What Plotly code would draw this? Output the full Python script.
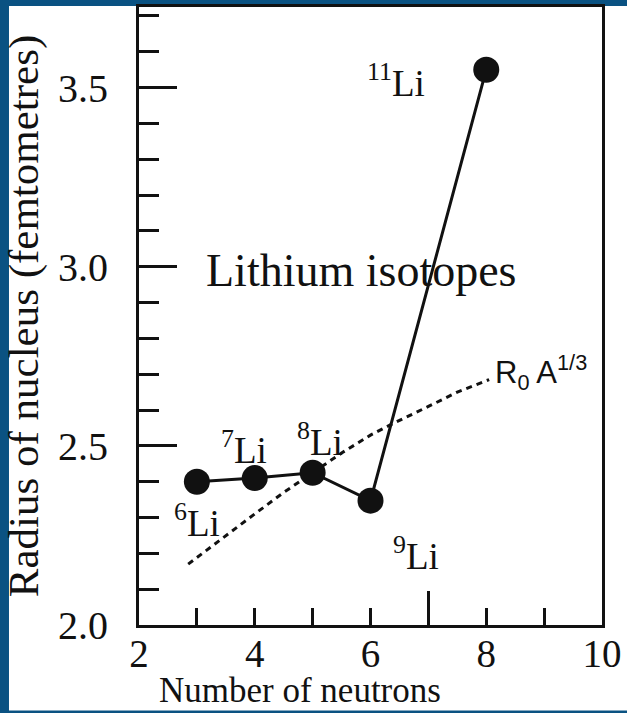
import plotly.graph_objects as go

# ---- data ----
neutrons = [3, 4, 5, 6, 8]
radius = [2.40, 2.41, 2.425, 2.347, 3.55]
isotope_mass = ["6", "7", "8", "9", "11"]

curve_n = [2.85, 3.5, 4.0, 4.5, 4.9, 5.5, 6.0, 6.36, 7.0, 7.5, 8.05]
curve_r = [2.17, 2.25, 2.31, 2.37, 2.415, 2.48, 2.53, 2.56, 2.61, 2.65, 2.685]

x_tick_vals = [2, 4, 6, 8, 10]
y_tick_vals = [2.0, 2.5, 3.0, 3.5]
y_tick_text = ["2.0", "2.5", "3.0", "3.5"]

# label offsets (pixels) for the isotope labels
label_dx = [0, -11, 7, 45, -90]
label_dy = [-39, 31, 33, -53, -11]

SERIF = "Liberation Serif, Times New Roman, serif"
SANS = "Liberation Sans, Arial, sans-serif"
INK = "#111111"
BLUE = "#0a5282"
X_RANGE = [2, 10]

fig = go.Figure()

# dashed R0 A^1/3 curve (on the overlay axis that carries the long tick at 7)
fig.add_trace(go.Scatter(
    x=curve_n, y=curve_r, mode="lines", xaxis="x2", yaxis="y",
    line=dict(color=INK, width=3, dash="6px,5px"),
    hoverinfo="skip", showlegend=False,
))

# measured radii (on the overlay axis that carries the tick labels)
fig.add_trace(go.Scatter(
    x=neutrons, y=radius, mode="lines+markers", xaxis="x3", yaxis="y",
    line=dict(color=INK, width=3),
    marker=dict(color=INK, size=26),
    showlegend=False,
))

annotations = []
for n, r, m, dx, dy in zip(neutrons, radius, isotope_mass, label_dx, label_dy):
    annotations.append(dict(
        x=n, y=r, xref="x", yref="y", text=f"<sup>{m}</sup>Li",
        showarrow=False, xshift=dx, yshift=dy,
        font=dict(family=SERIF, size=37, color=INK),
    ))

annotations.append(dict(
    x=5.85, y=2.99, xref="x", yref="y", text="Lithium isotopes",
    showarrow=False, font=dict(family=SERIF, size=46, color=INK),
))

annotations.append(dict(
    x=curve_n[-1], y=curve_r[-1], xref="x", yref="y",
    text="R<sub>0</sub> A<sup>1/3</sup>", showarrow=False,
    xanchor="left", xshift=4, yshift=7,
    font=dict(family=SANS, size=31, color=INK),
))

# x-axis title (the reference centres it left of the plot centre)
annotations.append(dict(
    x=0.348, y=-0.106, xref="paper", yref="paper",
    xanchor="center", yanchor="middle", showarrow=False,
    text="Number of neutrons",
    font=dict(family=SERIF, size=35, color=INK),
))

fig.update_layout(
    width=627, height=713,
    margin=dict(l=139, r=25, t=4, b=88),
    paper_bgcolor=BLUE, plot_bgcolor="white",
    showlegend=False,
    annotations=annotations,
    shapes=[dict(
        type="rect", xref="paper", yref="paper",
        x0=-0.2808, x1=1.06, y0=-0.1385, y1=1.0016,
        fillcolor="white", line=dict(width=0), layer="below",
    )],
    xaxis=dict(
        range=X_RANGE, tickvals=x_tick_vals, ticks="inside",
        ticklen=17, tickwidth=2.5, tickcolor=INK,
        minor=dict(dtick=1, tick0=2, ticks="inside", ticklen=17,
                   tickwidth=2.5, tickcolor=INK),
        showline=True, linewidth=3, linecolor=INK, mirror=True,
        showgrid=False, zeroline=False, showticklabels=False,
    ),
    xaxis2=dict(
        overlaying="x", anchor="y", side="bottom", range=X_RANGE,
        tickvals=[7], ticks="inside", ticklen=34, tickwidth=2.5,
        tickcolor=INK, showticklabels=False, showline=False,
        showgrid=False, zeroline=False,
    ),
    xaxis3=dict(
        overlaying="x", anchor="free", position=0, side="bottom",
        range=X_RANGE, tickvals=x_tick_vals, ticks="",
        showline=False, showgrid=False, zeroline=False,
        ticklabelstandoff=2,
        tickfont=dict(family=SERIF, size=39, color=INK),
    ),
    yaxis=dict(
        range=[2.0, 3.725], tickvals=y_tick_vals, ticktext=y_tick_text,
        ticks="inside", ticklen=38, tickwidth=2.5, tickcolor=INK,
        minor=dict(dtick=0.1, tick0=2.0, ticks="inside", ticklen=20,
                   tickwidth=2.5, tickcolor=INK),
        showline=True, linewidth=3, linecolor=INK, mirror=True,
        showgrid=False, zeroline=False,
        tickfont=dict(family=SERIF, size=40, color=INK),
        ticklabelstandoff=20,
        title=dict(text="Radius of nucleus (femtometres)", standoff=8,
                   font=dict(family=SERIF, size=43, color=INK)),
    ),
)

fig.write_html("out.html")
